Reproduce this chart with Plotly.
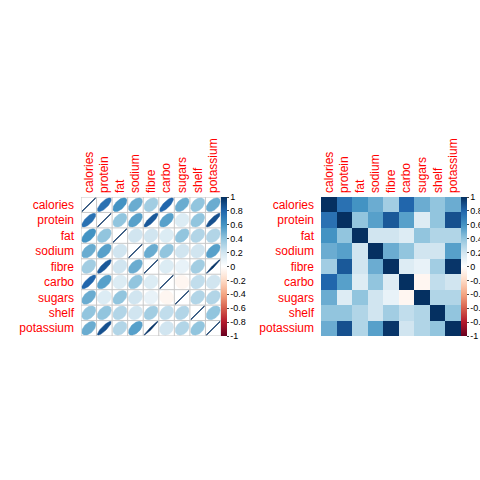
import numpy as np
import plotly.graph_objects as go

variables = ["calories", "protein", "fat", "sodium", "fibre", "carbo", "sugars", "shelf", "potassium"]

calories  = [1.00, 0.75, 0.60, 0.50, 0.35, 0.80, 0.50, 0.40, 0.50]
protein   = [0.75, 1.00, 0.40, 0.55, 0.85, 0.55, 0.15, 0.40, 0.88]
fat       = [0.60, 0.40, 1.00, 0.20, 0.20, 0.15, 0.40, 0.30, 0.30]
sodium    = [0.50, 0.55, 0.20, 1.00, 0.50, 0.40, 0.20, 0.20, 0.55]
fibre     = [0.35, 0.85, 0.20, 0.50, 1.00, 0.15, 0.10, 0.35, 0.98]
carbo     = [0.80, 0.55, 0.15, 0.40, 0.15, 1.00, -0.05, 0.25, 0.20]
sugars    = [0.50, 0.15, 0.40, 0.20, 0.10, -0.05, 1.00, 0.30, 0.30]
shelf     = [0.40, 0.40, 0.30, 0.20, 0.35, 0.25, 0.30, 1.00, 0.40]
potassium = [0.50, 0.88, 0.30, 0.55, 0.98, 0.20, 0.30, 0.40, 1.00]

corr = np.array([calories, protein, fat, sodium, fibre, carbo, sugars, shelf, potassium])
n = len(variables)

colorbar_ticks = [1, 0.8, 0.6, 0.4, 0.2, 0, -0.2, -0.4, -0.6, -0.8, -1]
colorbar_labels = ["1", "0.8", "0.6", "0.4", "0.2", "0", "-0.2", "-0.4", "-0.6", "-0.8", "-1"]

anchors = ["#67001F", "#B2182B", "#D6604D", "#F4A582", "#FDDBC7", "#FFFFFF",
           "#D1E5F0", "#92C5DE", "#4393C3", "#2166AC", "#053061"]
colorscale = [[i / (len(anchors) - 1), c] for i, c in enumerate(anchors)]


def hex2rgb(h):
    h = h.lstrip("#")
    return [int(h[i:i + 2], 16) for i in (0, 2, 4)]


def value_color(v):
    t = (v + 1) / 2 * (len(anchors) - 1)
    i = int(min(max(np.floor(t), 0), len(anchors) - 2))
    f = t - i
    a, b = hex2rgb(anchors[i]), hex2rgb(anchors[i + 1])
    c = [round(a[k] + (b[k] - a[k]) * f) for k in range(3)]
    return "rgb(%d,%d,%d)" % tuple(c)


W, H = 480, 480
left_x = [81 / W, 221 / W]
right_x = [321 / W, 461 / W]
y_dom = [1 - 336 / H, 1 - 197 / H]

fig = go.Figure()
font_family = "Liberation Sans, Arial, sans-serif"

# ---- left: ellipses ----
k = np.linspace(0, 2 * np.pi, 80)
scale = 0.9
for i in range(n):
    for j in range(n):
        r = corr[i, j]
        d = np.arccos(np.clip(r, -1, 1))
        ex = np.cos(k + d / 2) / 2 * scale
        ey = np.cos(k - d / 2) / 2 * scale
        cx, cy = j + 1, i + 1
        col = value_color(r)
        if abs(r) >= 0.999:
            fig.add_trace(go.Scatter(x=cx + ex, y=cy - ey, mode="lines",
                                     line=dict(color=col, width=1),
                                     hoverinfo="skip", showlegend=False,
                                     xaxis="x", yaxis="y"))
        else:
            fig.add_trace(go.Scatter(x=cx + ex, y=cy - ey, mode="lines", fill="toself",
                                     fillcolor=col, line=dict(color=col, width=0.5),
                                     hoverinfo="skip", showlegend=False,
                                     xaxis="x", yaxis="y"))

# grid lines for left
gx, gy = [], []
for b in np.arange(0.5, n + 1, 1.0):
    gx += [b, b, None]
    gy += [0.5, n + 0.5, None]
    gx += [0.5, n + 0.5, None]
    gy += [b, b, None]
fig.add_trace(go.Scatter(x=gx, y=gy, mode="lines", line=dict(color="#c8c8c8", width=1),
                         hoverinfo="skip", showlegend=False, xaxis="x", yaxis="y"))

cb_common = dict(thickness=6, thicknessmode="pixels", len=139, lenmode="pixels",
                 y=(y_dom[0] + y_dom[1]) / 2, yanchor="middle", xanchor="left",
                 xpad=0, ypad=0, outlinewidth=0, ticks="outside", ticklen=2,
                 tickvals=colorbar_ticks, ticktext=colorbar_labels,
                 tickfont=dict(size=9, color="black", family=font_family))

fig.add_trace(go.Scatter(x=[None], y=[None], mode="markers", showlegend=False,
                         marker=dict(color=[0], colorscale=colorscale, cmin=-1, cmax=1,
                                     showscale=True,
                                     colorbar=dict(x=left_x[1], **cb_common)),
                         xaxis="x", yaxis="y"))

# ---- right: colored squares ----
fig.add_trace(go.Heatmap(z=corr, x=list(range(1, n + 1)), y=list(range(1, n + 1)),
                         colorscale=colorscale, zmin=-1, zmax=1, hoverinfo="skip",
                         colorbar=dict(x=right_x[1], **cb_common),
                         xaxis="x2", yaxis="y2"))

axis_common = dict(range=[0.5, n + 0.5], showgrid=False, zeroline=False, showline=False,
                   tickvals=list(range(1, n + 1)), ticktext=variables, ticks="",
                   automargin=False,
                   tickfont=dict(size=12, color="red", family=font_family))

fig.update_layout(
    width=W, height=H, margin=dict(l=0, r=0, t=0, b=0, autoexpand=False),
    paper_bgcolor="white", plot_bgcolor="white",
    xaxis=dict(domain=left_x, side="top", tickangle=-90, anchor="y",
               ticklabelstandoff=3, **axis_common),
    yaxis=dict(domain=y_dom, autorange=False, anchor="x", ticklabelstandoff=6,
               **{**axis_common, "range": [n + 0.5, 0.5]}),
    xaxis2=dict(domain=right_x, side="top", tickangle=-90, anchor="y2",
                ticklabelstandoff=3, **axis_common),
    yaxis2=dict(domain=y_dom, autorange=False, anchor="x2", ticklabelstandoff=6,
                **{**axis_common, "range": [n + 0.5, 0.5]}),
    font=dict(family=font_family),
)

fig.write_html("out.html")
